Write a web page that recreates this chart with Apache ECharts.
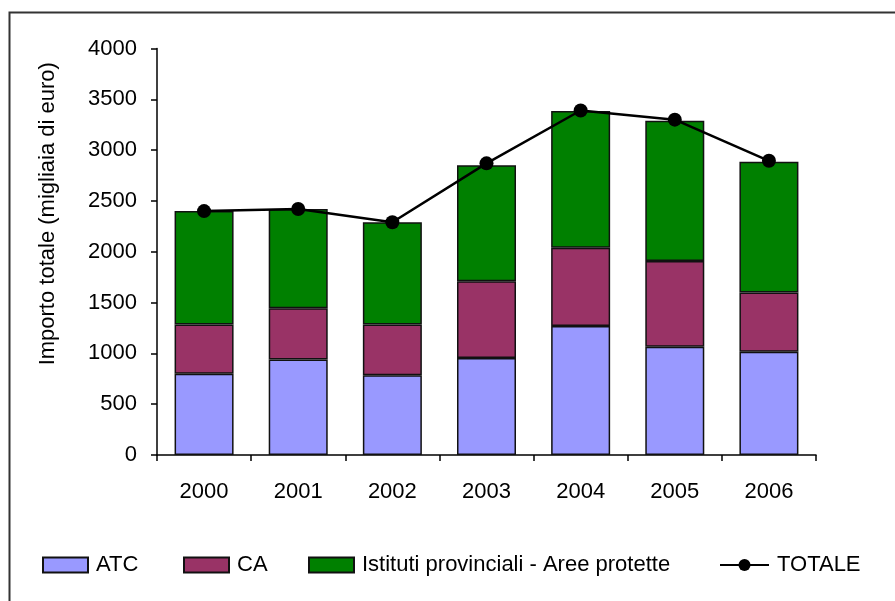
<!DOCTYPE html>
<html>
<head>
<meta charset="utf-8">
<script src="https://cdn.jsdelivr.net/npm/echarts@6/dist/echarts.min.js"></script>
<style>html,body{margin:0;padding:0;background:#fff}#c{width:895px;height:601px}</style>
</head>
<body>
<div id="c"></div>
<script>
var years = ['2000','2001','2002','2003','2004','2005','2006'];
var atc = [800, 940, 785, 955, 1270, 1065, 1015];
var ca = [485, 505, 500, 755, 770, 845, 585];
var istituti = [1115, 975, 1005, 1140, 1345, 1380, 1285];
var totale = [2400, 2420, 2290, 2870, 3390, 3300, 2895];
var yTicks = [0, 500, 1000, 1500, 2000, 2500, 3000, 3500, 4000];

var font = 'Liberation Sans, Arial, sans-serif';
var chart = echarts.init(document.getElementById('c'), null, {renderer: 'canvas'});
var barStyle = function (c) { return {color: c, borderColor: '#111', borderWidth: 1.5}; };
function lg(name, left, icon, w) {
  var o = {
    data: [icon ? {name: name, icon: icon} : {name: name}], left: left, top: 549, itemWidth: w || 45, itemHeight: 15, itemGap: 0,
    textStyle: {fontFamily: font, fontSize: 22, color: '#000', padding: [0,0,0,3]},
    selectedMode: false
  };
  return o;
}
chart.setOption({
  animation: false,
  backgroundColor: '#fff',
  graphic: [{type: 'rect', shape: {x: 9.5, y: 12.5, width: 900, height: 600},
    style: {fill: 'none', stroke: '#333', lineWidth: 2}, silent: true}],
  grid: {left: 157, right: 79, top: 48.5, bottom: 146},
  legend: [lg('ATC', 37, 'rect'), lg('CA', 178, 'rect'), lg('Istituti provinciali - Aree protette', 303, 'rect'), lg('TOTALE', 714, null, 49)],
  xAxis: {
    type: 'category', data: years, boundaryGap: true,
    axisLine: {lineStyle: {color: '#000', width: 1.5}},
    axisTick: {show: true, length: 6, interval: 0, lineStyle: {color: '#000', width: 1.5}},
    axisLabel: {fontFamily: font, fontSize: 22, color: '#000', margin: 26}
  },
  yAxis: {
    type: 'value', min: 0, max: 4000, interval: 500,
    name: 'Importo totale (migliaia di euro)', nameLocation: 'middle', nameGap: 98,
    nameTextStyle: {fontFamily: font, fontSize: 22, color: '#000', padding: [0, 0, 0, 76]},
    axisLine: {show: true, lineStyle: {color: '#000', width: 1.5}},
    axisTick: {show: true, length: 6, lineStyle: {color: '#000', width: 1.5}},
    axisLabel: {fontFamily: font, fontSize: 22, color: '#000', margin: 20,
      formatter: function (v) { return yTicks.indexOf(v) >= 0 ? String(v) : ''; }},
    splitLine: {show: false}
  },
  series: [
    {name: 'ATC', type: 'bar', stack: 's', data: atc, barWidth: 59, itemStyle: barStyle('#9999FF')},
    {name: 'CA', type: 'bar', stack: 's', data: ca, barWidth: 59, itemStyle: barStyle('#993366')},
    {name: 'Istituti provinciali - Aree protette', type: 'bar', stack: 's', data: istituti, barWidth: 59, itemStyle: barStyle('#008000')},
    {name: 'TOTALE', type: 'line', data: totale, z: 10, symbol: 'circle', symbolSize: 14,
      lineStyle: {color: '#000', width: 2.5}, itemStyle: {color: '#000'}}
  ]
});
</script>
</body>
</html>
